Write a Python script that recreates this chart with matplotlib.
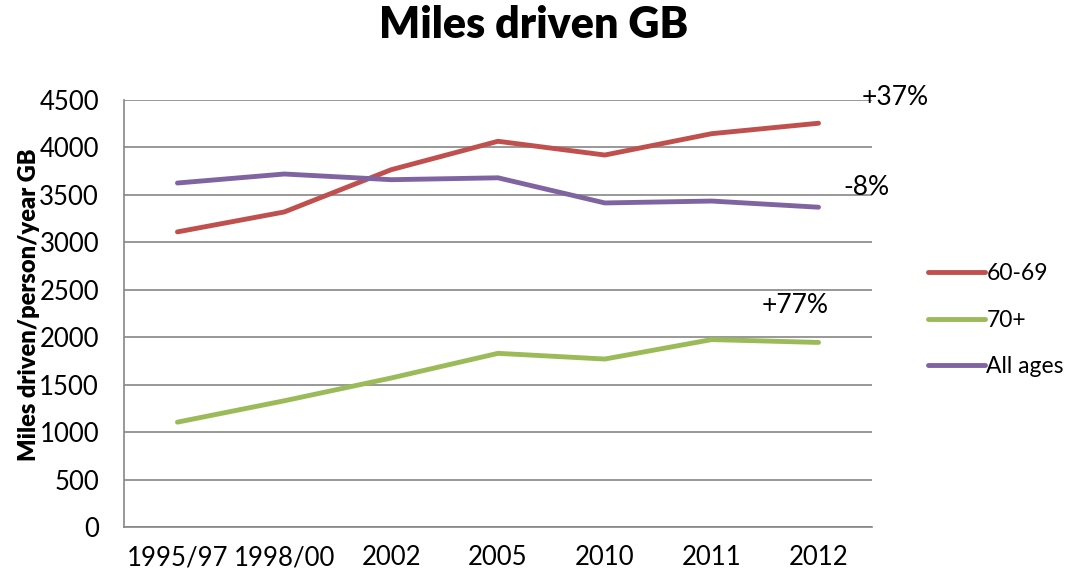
import matplotlib
matplotlib.use("Agg")
import matplotlib.pyplot as plt

# Miles driven per person per year in GB, by age group
periods = ["1995/97", "1998/00", "2002", "2005", "2010", "2011", "2012"]
age_60_69 = [3110, 3320, 3765, 4065, 3920, 4145, 4255]
age_70_plus = [1105, 1330, 1570, 1830, 1770, 1975, 1945]
all_ages = [3625, 3720, 3660, 3680, 3415, 3435, 3370]

series_names = ["60-69", "70+", "All ages"]
series_colors = ["#C0504D", "#9BBB59", "#8064A2"]

# change labels shown beside the lines
change_labels = ["+37%", "+77%", "-8%"]
change_pos = [(6.72, 4530), (5.78, 2330), (6.45, 3580)]

plt.rcParams["font.family"] = ["Lato", "DejaVu Sans"]

fig = plt.figure(figsize=(10.73, 5.74), dpi=100)
ax = fig.add_axes([0.1156, 0.0819, 0.697, 0.7439])

x = range(len(periods))
lines = []
for vals, name, col in zip([age_60_69, age_70_plus, all_ages], series_names, series_colors):
    ln, = ax.plot(x, vals, color=col, linewidth=3.5, solid_capstyle="round",
                  solid_joinstyle="round", label=name, zorder=3)
    lines.append(ln)

ax.set_xlim(-0.5, len(periods) - 0.5)
ax.set_ylim(0, 4500)
ax.set_yticks(range(0, 4501, 500))
ax.set_xticks(list(x))
ax.set_xticklabels(periods)
ax.tick_params(axis="both", length=0, labelsize=18.5, colors="black")
ax.tick_params(axis="x", pad=13)
ax.tick_params(axis="y", pad=18)

ax.yaxis.grid(True, color="#868686", linewidth=1.2)
ax.set_axisbelow(True)
for side in ["top", "right"]:
    ax.spines[side].set_visible(False)
for side in ["left", "bottom"]:
    ax.spines[side].set_color("#868686")
    ax.spines[side].set_linewidth(1.2)

ax.set_ylabel("Miles driven/person/year GB", fontsize=17, fontweight="heavy")
ax.yaxis.set_label_coords(-0.113, 0.52)

for lbl, (px, py) in zip(change_labels, change_pos):
    ax.text(px, py, lbl, fontsize=19, ha="center", va="center", clip_on=False)

fig.text(0.497, 0.956, "Miles driven GB", fontsize=31, fontweight="heavy",
         ha="center", va="center")

fig.legend(handles=lines, loc="center left", bbox_to_anchor=(0.846, 0.442),
           frameon=False, fontsize=16.5, handlelength=2.45, handletextpad=0.08,
           labelspacing=1.12)

fig.savefig("out.png", dpi=100)
